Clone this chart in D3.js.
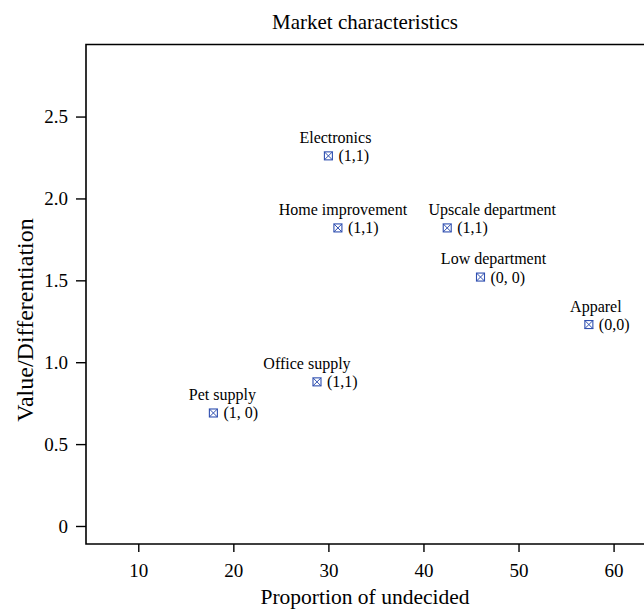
<!DOCTYPE html>
<html><head><meta charset="utf-8">
<script src="https://cdn.jsdelivr.net/npm/d3@7"></script>
<style>body{margin:0;background:#fff}svg{display:block}text{font-family:"Liberation Serif","Times New Roman",serif;fill:#000}</style>
</head><body><svg id="c" width="644" height="610"></svg>
<script>
const names = ["Electronics","Home improvement","Upscale department","Low department","Apparel","Office supply","Pet supply"];
const undecided = [30, 31, 42.5, 46, 57.4, 28.8, 17.9];
const valueDiff = [2.26, 1.82, 1.82, 1.52, 1.23, 0.88, 0.69];
const codes = ["(1,1)","(1,1)","(1,1)","(0, 0)","(0,0)","(1,1)","(1, 0)"];
const nameShift = [7, 5, 45, 13, 7, -10, 9];
const xTicks = [10, 20, 30, 40, 50, 60];
const yTicks = [0, 0.5, 1.0, 1.5, 2.0, 2.5];
const yTickLabels = ["0","0.5","1.0","1.5","2.0","2.5"];

const svg = d3.select("#c");
const L = 86, R = 644, T = 44.5, B = 544;
const x = d3.scaleLinear().domain([4.5, 63.2]).range([L, R]);
const y = d3.scaleLinear().domain([-0.11, 2.94]).range([B, T]);
const ff = '"Liberation Serif","Times New Roman",serif';

svg.append("path").attr("d", `M${R+20},${T}H${L}V${B}H${R+20}`).attr("fill","none").attr("stroke","#000").attr("stroke-width",1.6);

const xa = svg.append("g").attr("transform",`translate(0,${B})`)
  .call(d3.axisBottom(x).tickValues(xTicks).tickSize(8).tickPadding(12).tickFormat(d3.format("d")));
xa.select(".domain").remove();
xa.selectAll("line").attr("stroke","#000").attr("stroke-width",1.4);
xa.selectAll("text").attr("font-size",19).style("font-family",ff);

const ya = svg.append("g").attr("transform",`translate(${L},0)`)
  .call(d3.axisLeft(y).tickValues(yTicks).tickSize(10).tickPadding(8).tickFormat((d,i)=>yTickLabels[i]));
ya.select(".domain").remove();
ya.selectAll("line").attr("stroke","#000").attr("stroke-width",1.4);
ya.selectAll("text").attr("font-size",19).style("font-family",ff);

svg.append("text").attr("x",(L+R)/2).attr("y",29).attr("text-anchor","middle").attr("font-size",21).text("Market characteristics");
svg.append("text").attr("x",(L+R)/2).attr("y",604).attr("text-anchor","middle").attr("font-size",21.5).text("Proportion of undecided");
svg.append("text").attr("transform",`translate(33,320) rotate(-90)`).attr("text-anchor","middle").attr("font-size",24).text("Value/Differentiation");

const pts = svg.append("g").selectAll("g").data(names).join("g")
  .attr("transform",(d,i)=>`translate(${x(undecided[i])},${y(valueDiff[i])})`);
const s = 4, col = "#2f4fb0";
pts.append("rect").attr("x",-s).attr("y",-s).attr("width",2*s).attr("height",2*s).attr("fill","none").attr("stroke",col).attr("stroke-width",1.1);
pts.append("path").attr("d",`M${-s},${-s}L${s},${s}M${s},${-s}L${-s},${s}`).attr("stroke",col).attr("stroke-width",1);
pts.append("text").attr("x",10).attr("y",5.5).attr("font-size",16).text((d,i)=>codes[i]);
pts.append("text").attr("x",(d,i)=>nameShift[i]).attr("y",-13).attr("text-anchor","middle").attr("font-size",16).text(d=>d);
</script></body></html>
